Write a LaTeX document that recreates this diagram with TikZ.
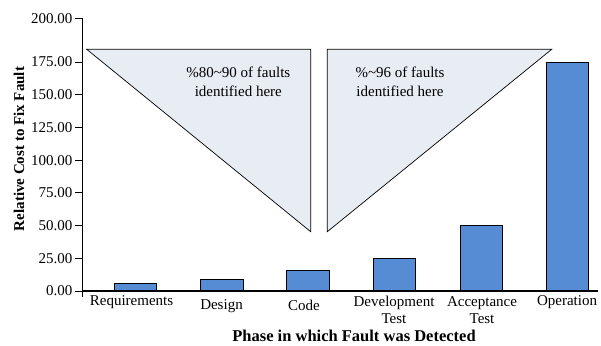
\documentclass[tikz,border=0pt]{standalone}
\usepackage{fontspec}
\setmainfont{Liberation Serif}
\usetikzlibrary{positioning}

\definecolor{barblue}{RGB}{85,140,212}
\definecolor{wedgegray}{RGB}{232,236,243}

\tikzset{
  costbar/.style={draw=black, line width=0.9pt, fill=barblue},
  wedge/.style={draw=black, line width=0.7pt, fill=wedgegray},
  ticklabel/.style={anchor=east, inner sep=0pt, font=\fontsize{15}{19}\selectfont},
  phaselabel/.style={align=center, inner sep=0pt, font=\fontsize{15}{17}\selectfont},
  notetext/.style={align=center, inner sep=0pt, font=\fontsize{15}{19}\selectfont},
}

\begin{document}
\begin{tikzpicture}[x=1pt, y=1pt, line join=miter]
\useasboundingbox (0,0) rectangle (601,345);

% the two wedges behind the bars
\draw[wedge] (86.7,295.7) -- (310.7,295.7) -- (310.7,113.3) -- cycle;
\node[notetext] (leftnote) at (238.3,263.7) {\%80\char"7E 90 of faults\\identified here};

\draw[wedge] (327.3,295.7) -- (551.7,295.7) -- (327.3,113.3) -- cycle;
\node[notetext] (rightnote) at (400,263.7) {\%\char"7E 96 of faults\\identified here};

% bars
\draw[costbar] (114.3,54) rectangle (156.8,61.7);
\draw[costbar] (200.7,54) rectangle (243.2,65.5);
\draw[costbar] (286.5,54) rectangle (329.0,75.0);
\draw[costbar] (373.0,54) rectangle (415.5,86.7);
\draw[costbar] (460.0,54) rectangle (502.5,120.0);
\draw[costbar] (546.3,54) rectangle (588.8,282.7);

% axes
\draw[line width=1.4pt] (82.5,326.3) -- (82.5,48);
\draw[line width=1.4pt] (82.5,54) -- (598,54);

% ticks
\draw[line width=1pt] (75,54) -- (82.5,54);
\draw[line width=1pt] (75,86.7) -- (82.5,86.7);
\draw[line width=1pt] (75,119.4) -- (82.5,119.4);
\draw[line width=1pt] (75,152.1) -- (82.5,152.1);
\draw[line width=1pt] (75,184.8) -- (82.5,184.8);
\draw[line width=1pt] (75,217.5) -- (82.5,217.5);
\draw[line width=1pt] (75,250.2) -- (82.5,250.2);
\draw[line width=1pt] (75,282.9) -- (82.5,282.9);
\draw[line width=1pt] (75,326.3) -- (82.5,326.3);

\node[ticklabel] (t0) at (72.5,54) {0.00};
\node[ticklabel] (t25) at (72.5,86.7) {25.00};
\node[ticklabel] (t50) at (72.5,119.4) {50.00};
\node[ticklabel] (t75) at (72.5,152.1) {75.00};
\node[ticklabel] (t100) at (72.5,184.8) {100.00};
\node[ticklabel] (t125) at (72.5,217.5) {125.00};
\node[ticklabel] (t150) at (72.5,250.2) {150.00};
\node[ticklabel] (t175) at (72.5,282.9) {175.00};
\node[ticklabel] (t200) at (72.5,326.3) {200.00};

% phase labels
\node[phaselabel] (req) at (131.5,42.5) {Requirements};
\node[phaselabel] (des) at (221.5,39.2) {Design};
\node[phaselabel] (cod) at (304.0,39.2) {Code};
\node[phaselabel] (dev) at (394.0,35.0) {Development\\Test};
\node[phaselabel] (acc) at (482.0,35.0) {Acceptance\\Test};
\node[phaselabel] (ope) at (567.0,42.5) {Operation};

% axis titles
\node[inner sep=0pt, rotate=90, font=\fontsize{15}{19}\selectfont\bfseries] (ytitle) at (19,196) {Relative Cost to Fix Fault};
\node[inner sep=0pt, font=\fontsize{16.5}{20}\selectfont\bfseries] (xtitle) at (354,8.8) {Phase in which Fault was Detected};

\end{tikzpicture}
\end{document}
